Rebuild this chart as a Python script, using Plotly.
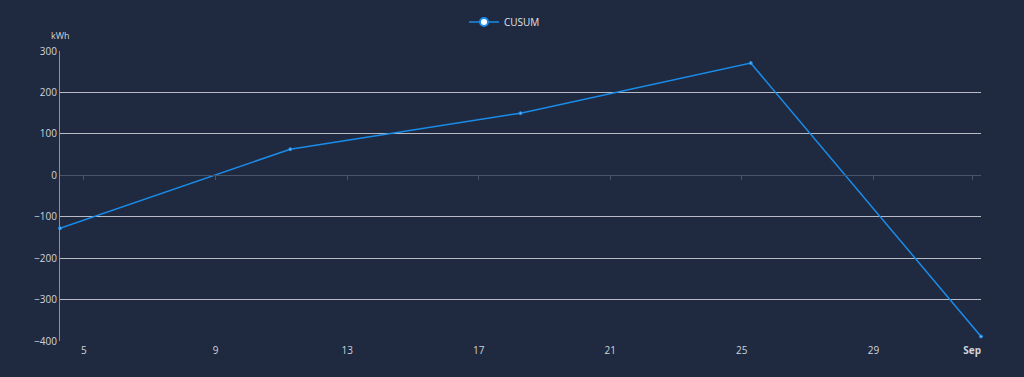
import plotly.graph_objects as go

dates = ["2024-08-04 06:30", "2024-08-11 06:30", "2024-08-18 06:30",
         "2024-08-25 06:30", "2024-09-01 06:30"]
cusum = [-128, 63, 150, 271, -389]

tick_vals = ["2024-08-05", "2024-08-09", "2024-08-13", "2024-08-17",
             "2024-08-21", "2024-08-25", "2024-08-29", "2024-09-01"]
tick_text = ["5", "9", "13", "17", "21", "25", "29", "<b>Sep</b>"]
y_ticks = [-400, -300, -200, -100, 0, 100, 200, 300]

x_range = ["2024-08-04 06:30", "2024-09-01 06:30"]
y_range = [-400, 300]

bg = "#1f2a40"
label_col = "#d0d3d9"
blue = "#1a8cea"

fig = go.Figure()
fig.add_trace(go.Scatter(
    x=dates, y=cusum, name="CUSUM", mode="lines+markers",
    line=dict(color=blue, width=1.5),
    marker=dict(size=3, color="#5fb2ff", line=dict(color=blue, width=1)),
    cliponaxis=False, showlegend=False,
))
# legend entry (white-filled marker like the reference legend)
fig.add_trace(go.Scatter(
    x=[None], y=[None], name="CUSUM", mode="lines+markers",
    line=dict(color=blue, width=1.5),
    marker=dict(size=8, color="white", line=dict(color=blue, width=2)),
    showlegend=True,
))

fig.update_layout(
    width=1024, height=377,
    paper_bgcolor=bg, plot_bgcolor=bg,
    margin=dict(l=60, r=43, t=51, b=36, autoexpand=False),
    font=dict(family="Open Sans, Roboto, sans-serif", color=label_col, size=10),
    showlegend=True,
    legend=dict(orientation="h", x=0.5 - 16 / 921, xanchor="center",
                yref="container", y=1 - 22 / 377, yanchor="middle",
                font=dict(size=10, color="#e0e3e8"), bgcolor="rgba(0,0,0,0)",
                itemwidth=30),
    xaxis=dict(type="date", range=x_range, tickvals=tick_vals, ticktext=tick_text,
               showgrid=False, showline=False, zeroline=False, ticks="",
               tickfont=dict(size=10, color=label_col), ticklabelstandoff=2),
    xaxis2=dict(type="date", range=x_range, tickvals=tick_vals, overlaying="x",
                anchor="free", position=4 / 7, side="bottom",
                showticklabels=False, showgrid=False, zeroline=False,
                showline=True, linecolor="#4a5468", linewidth=1,
                ticks="outside", ticklen=4, tickcolor="#4a5468", tickwidth=1),
    yaxis=dict(range=y_range, tickvals=y_ticks, showgrid=True,
               gridcolor="#b8bcc6", gridwidth=1, zeroline=True,
               zerolinecolor="#4a5468", zerolinewidth=1,
               showline=True, linecolor="#8a909c", linewidth=1,
               tickfont=dict(size=10, color=label_col), ticks=""),
)

# invisible trace to activate xaxis2
fig.add_trace(go.Scatter(x=[dates[0]], y=[None], xaxis="x2", showlegend=False,
                         hoverinfo="skip"))

fig.add_annotation(text="kWh", xref="paper", yref="paper", x=0, y=1,
                   xanchor="center", yanchor="bottom", yshift=7, xshift=0,
                   showarrow=False, font=dict(size=9, color=label_col))

fig.write_html("out.html", config={"displayModeBar": False})

with open("out.html", "r", encoding="utf-8") as f:
    html = f.read()
html = html.replace("<body>", "<body style=\"margin:0;background:%s\">" % bg, 1)
with open("out.html", "w", encoding="utf-8") as f:
    f.write(html)
